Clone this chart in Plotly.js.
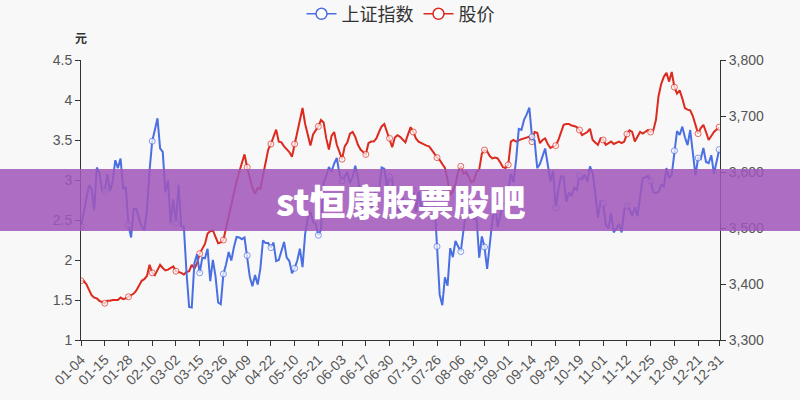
<!DOCTYPE html>
<html>
<head>
<meta charset="utf-8">
<script src="https://cdn.plot.ly/plotly-3.0.1.min.js"></script>
<style>
html,body{margin:0;padding:0;background:#f8f8f8;}
#chart{width:800px;height:400px;}
</style>
</head>
<body>
<div id="chart"></div>
<script>
// Trading dates (2021)
const dates = [
'01-04','01-05','01-06','01-07','01-08','01-11','01-12','01-13','01-14','01-15','01-18','01-19','01-20','01-21','01-22','01-25','01-26','01-27','01-28','01-29',
'02-01','02-02','02-03','02-04','02-05','02-08','02-09','02-10','02-18','02-19','02-22','02-23','02-24','02-25','02-26',
'03-01','03-02','03-03','03-04','03-05','03-08','03-09','03-10','03-11','03-12','03-15','03-16','03-17','03-18','03-19','03-22','03-23','03-24','03-25','03-26','03-29','03-30','03-31',
'04-01','04-02','04-06','04-07','04-08','04-09','04-12','04-13','04-14','04-15','04-16','04-19','04-20','04-21','04-22','04-23','04-26','04-27','04-28','04-29','04-30',
'05-06','05-07','05-10','05-11','05-12','05-13','05-14','05-17','05-18','05-19','05-20','05-21','05-24','05-25','05-26','05-27','05-28','05-31',
'06-01','06-02','06-03','06-04','06-07','06-08','06-09','06-10','06-11','06-15','06-16','06-17','06-18','06-21','06-22','06-23','06-24','06-25','06-28','06-29','06-30',
'07-01','07-02','07-05','07-06','07-07','07-08','07-09','07-12','07-13','07-14','07-15','07-16','07-19','07-20','07-21','07-22','07-23','07-26','07-27','07-28','07-29','07-30',
'08-02','08-03','08-04','08-05','08-06','08-09','08-10','08-11','08-12','08-13','08-16','08-17','08-18','08-19','08-20','08-23','08-24','08-25','08-26','08-27','08-30','08-31',
'09-01','09-02','09-03','09-06','09-07','09-08','09-09','09-10','09-13','09-14','09-15','09-16','09-17','09-22','09-23','09-24','09-27','09-28','09-29','09-30',
'10-08','10-11','10-12','10-13','10-14','10-15','10-18','10-19','10-20','10-21','10-22','10-25','10-26','10-27','10-28','10-29',
'11-01','11-02','11-03','11-04','11-05','11-08','11-09','11-10','11-11','11-12','11-15','11-16','11-17','11-18','11-19','11-22','11-23','11-24','11-25','11-26','11-29','11-30',
'12-01','12-02','12-03','12-06','12-07','12-08','12-09','12-10','12-13','12-14','12-15','12-16','12-17','12-20','12-21','12-22','12-23','12-24','12-27','12-28','12-29','12-30','12-31'
];

const tickLabels = ['01-04','01-15','01-28','02-10','03-02','03-15','03-26','04-09','04-22','05-10','05-21','06-03','06-17','06-30','07-13','07-26','08-06','08-19','09-01','09-14','09-29','10-19','11-01','11-12','11-25','12-08','12-21','12-31'];

// 上证指数 (right axis)
const indexValues = [
3503,3529,3551,3576,3570,3532,3608,3599,3566,3566,3596,3566,3583,3621,3607,3624,3569,3573,3505,3483,
3534,3534,3517,3502,3496,3532,3603,3655,3675,3696,3642,3636,3564,3585,3509,
3551,3509,3577,3503,3502,3421,3359,3358,3437,3453,3420,3447,3446,3463,3405,3443,3414,3367,3364,3418,3435,3457,3442,
3466,3484,3483,3480,3483,3451,3413,3396,3416,3399,3427,3478,3473,3473,3465,3474,3441,3443,3457,3475,3447,
3441,3419,3428,3442,3463,3430,3490,3518,3529,3511,3507,3487,3497,3581,3593,3609,3601,3615,
3625,3597,3584,3592,3600,3580,3591,3611,3590,3557,3518,3525,3525,3529,3557,3567,3566,3608,3606,3573,3591,
3589,3519,3534,3530,3554,3526,3524,3548,3567,3529,3565,3539,3539,3537,3563,3575,3550,3467,3381,3362,3412,3397,
3464,3448,3477,3467,3458,3495,3530,3533,3525,3516,3517,3447,3485,3466,3427,3477,3514,3540,3502,3522,3544,3544,
3567,3597,3582,3622,3677,3675,3693,3703,3715,3663,3656,3607,3614,3628,3642,3613,3583,3602,3536,3568,
3592,3592,3547,3562,3558,3572,3568,3593,3587,3595,3583,3610,3598,3562,3518,3547,
3544,3506,3499,3527,3492,3499,3507,3492,3533,3539,3533,3522,3537,3521,3560,3589,3590,3593,3584,3564,3563,3564,
3577,3574,3607,3589,3595,3638,3673,3666,3681,3662,3648,3675,3632,3594,3625,3623,3643,3618,3616,3630,3597,3619,3640
];

// 股价 (left axis, 元)
const priceValues = [
1.74,1.74,1.70,1.63,1.56,1.53,1.52,1.49,1.47,1.46,1.49,1.49,1.50,1.50,1.50,1.53,1.51,1.52,1.54,1.55,
1.58,1.62,1.68,1.74,1.76,1.80,1.94,1.84,1.81,1.88,1.94,1.90,1.87,1.88,1.90,
1.92,1.86,1.85,1.84,1.82,1.85,1.86,1.94,1.89,1.96,2.08,2.15,2.20,2.33,2.36,2.37,2.30,2.21,2.22,2.25,2.40,2.55,2.70,
2.84,2.98,3.10,3.22,3.32,3.16,3.02,2.90,2.83,2.90,2.89,3.05,3.20,3.38,3.45,3.55,3.63,3.48,3.47,3.42,3.38,
3.35,3.29,3.45,3.58,3.75,3.90,3.70,3.55,3.43,3.57,3.62,3.67,3.75,3.72,3.52,3.38,3.55,3.60,
3.44,3.34,3.26,3.42,3.47,3.58,3.60,3.54,3.44,3.38,3.35,3.32,3.46,3.48,3.48,3.52,3.60,3.67,3.70,3.60,3.52,
3.41,3.53,3.56,3.54,3.50,3.47,3.57,3.66,3.60,3.52,3.48,3.46,3.45,3.43,3.42,3.38,3.33,3.28,3.25,3.20,3.15,3.00,
2.81,2.86,2.95,3.10,3.17,3.08,3.10,3.04,2.97,2.99,3.10,3.13,3.33,3.375,3.36,3.30,3.27,3.28,3.27,3.22,3.16,3.15,
3.19,3.48,3.50,3.48,3.50,3.51,3.52,3.53,3.54,3.48,3.60,3.59,3.46,3.50,3.52,3.45,3.40,3.42,3.43,3.50,
3.60,3.69,3.70,3.70,3.68,3.675,3.66,3.625,3.56,3.58,3.60,3.64,3.50,3.47,3.44,3.52,
3.50,3.44,3.46,3.48,3.45,3.47,3.48,3.46,3.48,3.575,3.62,3.60,3.48,3.54,3.60,3.58,3.60,3.625,3.60,3.62,3.75,4.05,
4.20,4.29,4.34,4.23,4.35,4.16,4.08,4.12,4.02,3.90,3.88,3.87,3.80,3.70,3.58,3.65,3.69,3.60,3.50,3.55,3.60,3.63,3.66
];

const seriesNames = ['上证指数', '股价'];
const blue = '#4a6fe3';
const red = '#dc2a1f';
const cjk = '"Noto Sans CJK SC", "Noto Sans", sans-serif';
const numFont = '"Liberation Sans", Arial, "Noto Sans CJK SC", sans-serif';

const markSizes = dates.map(d => tickLabels.includes(d) ? 6 : 0);

const traces = [
  {
    x: dates, y: indexValues, yaxis: 'y2', type: 'scatter', mode: 'lines+markers',
    name: seriesNames[0], showlegend: false,
    line: {color: blue, width: 2},
    marker: {size: markSizes, color: '#ffffff', line: {color: blue, width: 1}},
    hoverinfo: 'skip'
  },
  {
    x: dates, y: priceValues, yaxis: 'y', type: 'scatter', mode: 'lines+markers',
    name: seriesNames[1], showlegend: false,
    line: {color: red, width: 2},
    marker: {size: markSizes, color: '#ffffff', line: {color: red, width: 1}},
    hoverinfo: 'skip'
  },
  {
    x: [null], y: [null], yaxis: 'y2', type: 'scatter', mode: 'lines+markers',
    name: seriesNames[0], showlegend: true,
    line: {color: blue, width: 1.5},
    marker: {size: 11, color: '#ffffff', line: {color: blue, width: 1.5}}
  },
  {
    x: [null], y: [null], yaxis: 'y', type: 'scatter', mode: 'lines+markers',
    name: seriesNames[1], showlegend: true,
    line: {color: red, width: 1.5},
    marker: {size: 11, color: '#ffffff', line: {color: red, width: 1.5}}
  }
];

const layout = {
  width: 800, height: 400,
  margin: {l: 81, r: 80, t: 60, b: 60, pad: 0, autoexpand: false},
  paper_bgcolor: '#f8f8f8',
  plot_bgcolor: '#f8f8f8',
  font: {family: numFont, color: '#555'},
  showlegend: true,
  legend: {
    orientation: 'h', x: 0.5, xanchor: 'center', y: 1.164, yanchor: 'middle',
    font: {family: cjk, size: 18, color: '#333'},
    itemwidth: 30, bgcolor: 'rgba(0,0,0,0)', traceorder: 'normal'
  },
  xaxis: {
    type: 'category',
    categoryarray: dates,
    range: [0, 242.3],
    tickmode: 'array', tickvals: tickLabels, ticktext: tickLabels,
    tickangle: -45,
    tickfont: {size: 14, color: '#555', family: numFont},
    showline: true, linecolor: '#333', linewidth: 1,
    ticks: 'outside', ticklen: 5, tickcolor: '#333',
    showgrid: false, zeroline: false, fixedrange: true, automargin: false
  },
  yaxis: {
    range: [1, 4.5], tick0: 1, dtick: 0.5,
    tickfont: {size: 14, color: '#555', family: numFont},
    showline: true, linecolor: '#333', linewidth: 1,
    ticks: 'outside', ticklen: 5, tickcolor: '#333',
    showgrid: false, zeroline: false, automargin: false
  },
  yaxis2: {
    overlaying: 'y', side: 'right',
    range: [3300, 3800], tick0: 3300, dtick: 100, tickformat: ',d',
    tickfont: {size: 14, color: '#555', family: numFont},
    showline: true, linecolor: '#333', linewidth: 1,
    ticks: 'outside', ticklen: 5, tickcolor: '#333',
    showgrid: false, zeroline: false, automargin: false
  },
  shapes: [{
    type: 'rect', xref: 'paper', yref: 'paper', layer: 'above',
    x0: -0.2, x1: 1.2, y0: 0.389, y1: 0.611,
    fillcolor: 'rgba(160,86,186,0.86)', line: {width: 0}
  }],
  annotations: [
    {
      text: '元', xref: 'paper', yref: 'paper', x: 0, y: 1.079,
      xanchor: 'center', yanchor: 'middle', showarrow: false,
      font: {family: cjk, size: 12, color: '#333', weight: 700}
    },
    {
      text: 'st恒康股票股吧', xref: 'paper', yref: 'paper', x: 0.5, y: 0.5,
      xanchor: 'center', yanchor: 'middle', showarrow: false,
      font: {family: cjk, size: 36, color: '#ffffff', weight: 900}
    }
  ]
};

Plotly.newPlot('chart', traces, layout, {displayModeBar: false, staticPlot: true});
</script>
</body>
</html>
